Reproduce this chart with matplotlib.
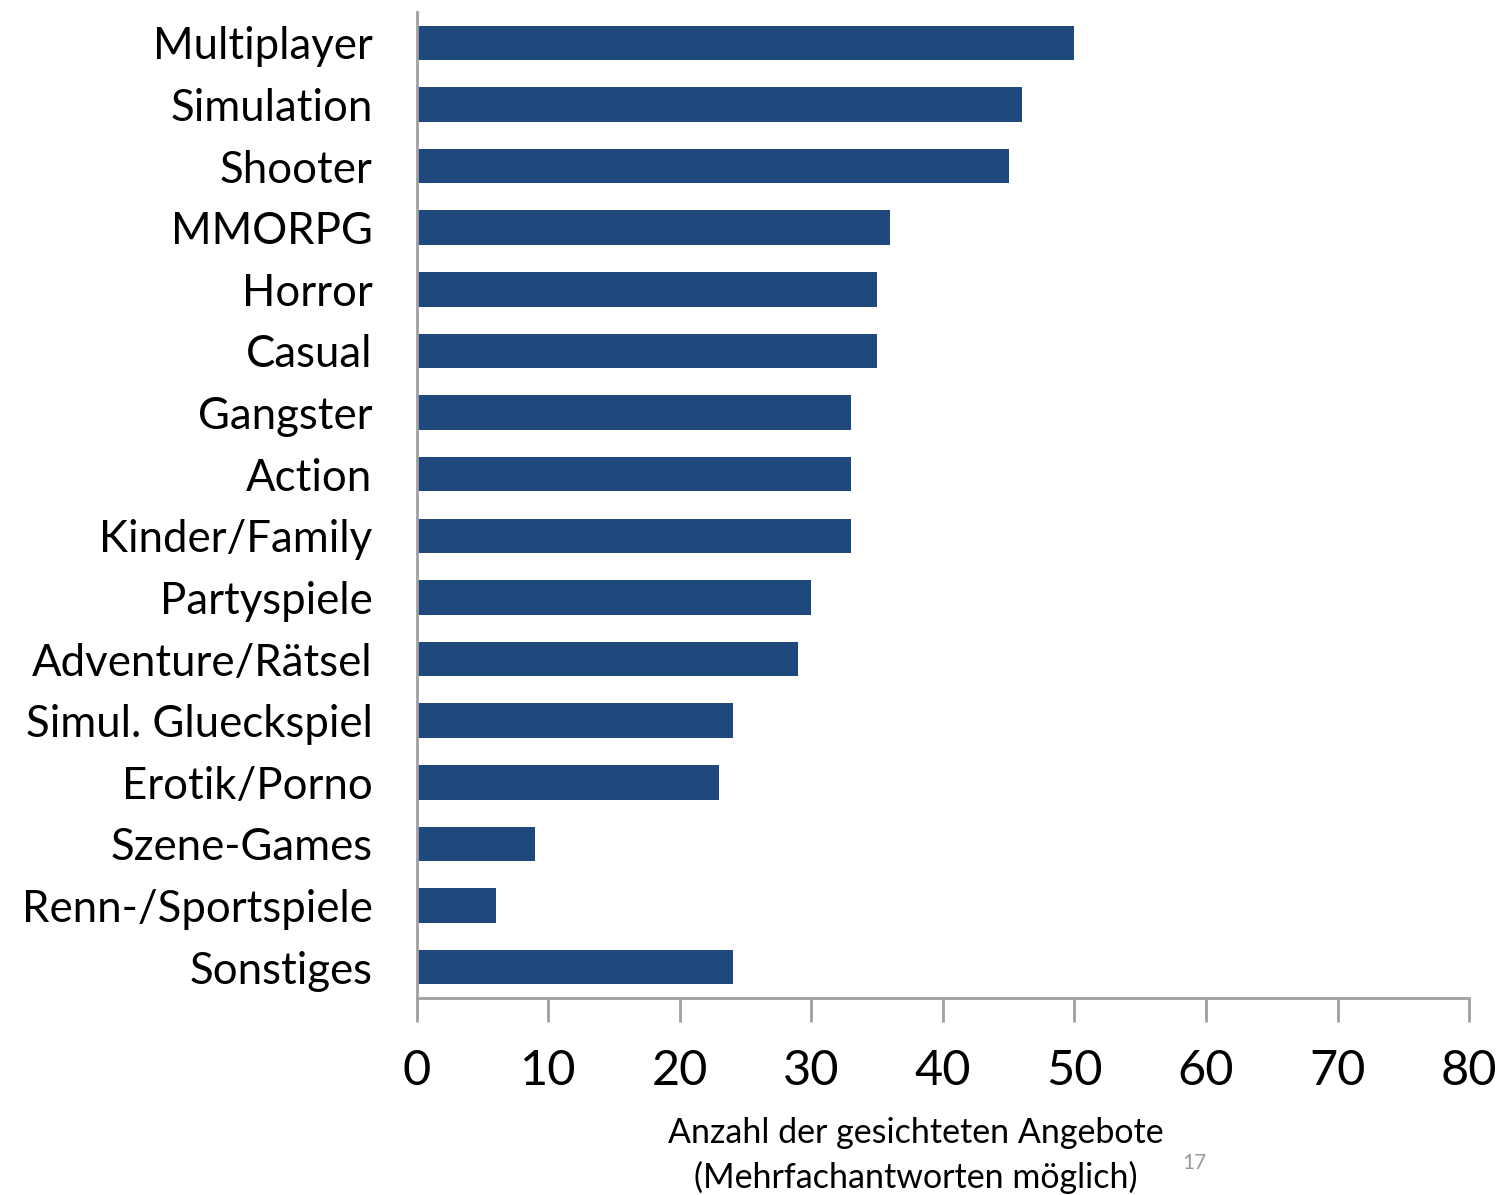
import numpy as np
import matplotlib.pyplot as plt

plt.rcParams['font.family'] = ['Lato', 'DejaVu Sans']

genres = ['Multiplayer', 'Simulation', 'Shooter', 'MMORPG', 'Horror', 'Casual',
          'Gangster', 'Action', 'Kinder/Family', 'Partyspiele', 'Adventure/Rätsel',
          'Simul. Glueckspiel', 'Erotik/Porno', 'Szene-Games', 'Renn-/Sportspiele',
          'Sonstiges']
counts = [50, 46, 45, 36, 35, 35, 33, 33, 33, 30, 29, 24, 23, 9, 6, 24]
xticks = [0, 10, 20, 30, 40, 50, 60, 70, 80]

bar_color = '#1f497d'
axis_grey = '#a0a0a0'

fig = plt.figure(figsize=(15.03, 11.95), dpi=100)
ax = fig.add_axes([0.2774, 0.1649, 0.7000, 0.8251])

y = np.arange(len(genres))
ax.barh(y, counts, height=0.56, color=bar_color)
ax.set_ylim(len(genres) - 0.5, -0.5)
ax.set_xlim(0, 80)

ax.set_yticks(y)
ax.set_yticklabels(genres, fontsize=31.5)
ax.tick_params(axis='y', length=0, pad=32)
ax.set_xticks(xticks)
ax.set_xticklabels([str(t) for t in xticks], fontsize=35)
ax.tick_params(axis='x', direction='out', length=17, width=2, color=axis_grey, pad=20)

for side in ['top', 'right']:
    ax.spines[side].set_visible(False)
for side in ['left', 'bottom']:
    ax.spines[side].set_color(axis_grey)
    ax.spines[side].set_linewidth(2)

fig.text(0.609, 0.0330, 'Anzahl der gesichteten Angebote\n(Mehrfachantworten möglich)',
         ha='center', va='center', fontsize=24.5, linespacing=1.45)
fig.text(0.795, 0.027, '17', ha='center', va='center', fontsize=15, color='#999999')

fig.savefig('out.png', dpi=100)
